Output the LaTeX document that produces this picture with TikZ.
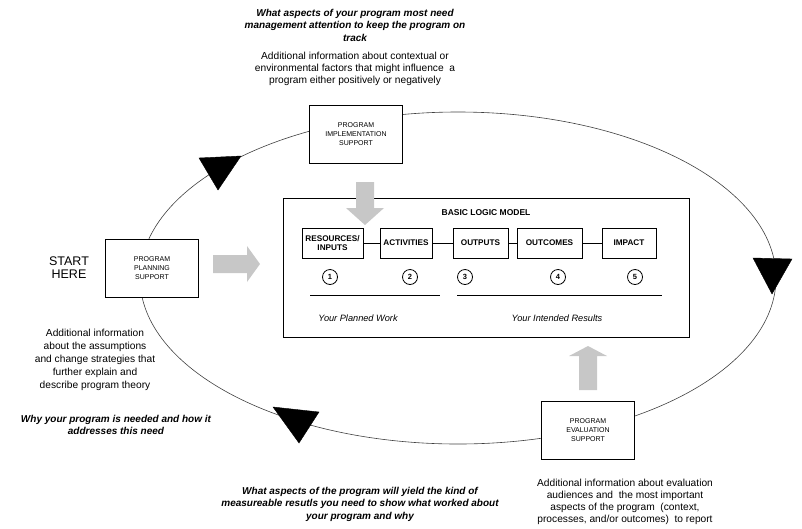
\documentclass[tikz,border=0pt]{standalone}
\usepackage{fontspec}
\setmainfont{Liberation Sans}
\usetikzlibrary{arrows.meta}
\tikzset{>=stealth}
\tikzset{
  supportbox/.style={draw, fill=white, minimum width=93pt, minimum height=58pt, align=center, inner sep=1pt, font=\fontsize{7}{9}\selectfont},
  stagebox/.style={draw, fill=white, minimum height=30pt, align=center, inner sep=1pt, font=\bfseries\fontsize{8.2}{9}\selectfont},
  numcircle/.style={draw, line width=0.8pt, fill=white, circle, minimum size=15pt, inner sep=0pt, font=\bfseries\fontsize{7.5}{8}\selectfont},
  note/.style={align=center, font=\fontsize{10.2}{12}\selectfont},
  question/.style={align=center, font=\bfseries\itshape\fontsize{10}{12.5}\selectfont},
  resultlabel/.style={font=\itshape\fontsize{9.2}{10}\selectfont},
  blockarrow/.style={fill=black!22, draw=none},
  turnmark/.style={fill=black, draw=black}
}
\begin{document}
\begin{tikzpicture}[x=1pt,y=-1pt]
\useasboundingbox (0,0) rectangle (802,528);
\draw[black!75, line width=0.6pt] (458,278) ellipse [x radius=318pt, y radius=166pt];
\node[supportbox] (impl) at (356,134) {PROGRAM\\IMPLEMENTATION\\SUPPORT};
\node[supportbox] (plan) at (152,268) {PROGRAM\\PLANNING\\SUPPORT};
\node[supportbox] (eval) at (588,430) {PROGRAM\\EVALUATION\\SUPPORT};
\node[draw, line width=0.6pt, minimum width=406pt, minimum height=139pt] (model) at (486,267.5) {};
\node[font=\bfseries\fontsize{8.5}{9}\selectfont] (title) at (486,213) {BASIC LOGIC MODEL};
\node[stagebox, minimum width=61pt] (res) at (332.5,243) {RESOURCES/\\INPUTS};
\node[stagebox, minimum width=52pt] (act) at (406,243) {ACTIVITIES};
\node[stagebox, minimum width=55pt] (out) at (480.5,243) {OUTPUTS};
\node[stagebox, minimum width=65pt] (outc) at (549.5,243) {OUTCOMES};
\node[stagebox, minimum width=54pt] (imp) at (629,243) {IMPACT};
\foreach \a/\b in {res/act,act/out,out/outc,outc/imp}
\draw (\a) -- (\b);
\foreach \n/\x in {1/330,2/410,3/465,4/558,5/635}
\node[numcircle] (c\n) at (\x,277) {\n};
\draw (310,295) coordinate (pw1) -- (440,295) coordinate (pw2);
\draw (457,295) coordinate (ir1) -- (662,295) coordinate (ir2);
\node[resultlabel] (planned) at (358,318) {Your Planned Work};
\node[resultlabel] (intended) at (557,318) {Your Intended Results};
\fill[blockarrow] (356,182) -- (374,182) -- (374,208) -- (384,208) -- (365,225) -- (346,208) -- (356,208) -- cycle;
\fill[blockarrow] (213,255) -- (247,255) -- (247,246) -- (260,264) -- (247,282) -- (247,273) -- (213,273) -- cycle;
\fill[blockarrow] (579,390) -- (597,390) -- (597,356) -- (607,356) -- (588,346) -- (569,356) -- (579,356) -- cycle;
\fill[turnmark] (199,158) -- (241,156) -- (218,190) -- cycle;
\fill[turnmark] (753,258) -- (792,259) -- (772,294) -- cycle;
\fill[turnmark] (273,407) -- (319,412) -- (299,443) -- cycle;
\node[question] (qtop) at (355,25) {What aspects of your program most need\\management attention to keep the program on\\track};
\node[note] (ntop) at (355,69) {Additional information about contextual or\\environmental factors that might influence\ \ a\\program either positively or negatively};
\node[align=center, font=\fontsize{12.5}{13}\selectfont] (start) at (69,268) {START\\HERE};
\node[note, font=\fontsize{10.2}{13}\selectfont] (nleft) at (95,360) {Additional information\\about the assumptions\\and change strategies that\\further explain and\\describe program theory};
\node[question] (qleft) at (116,425) {Why your program is needed and how it\\addresses this need};
\node[question] (qbottom) at (360,504) {What aspects of the program will yield the kind of\\measureable resutls you need to show what worked about\\your program and why};
\node[note] (nright) at (625,502) {Additional information about evaluation\\audiences and\ \ the most important\\aspects of the program\ \ (context,\\processes, and/or outcomes)\ \ to report};
\end{tikzpicture}
\end{document}
